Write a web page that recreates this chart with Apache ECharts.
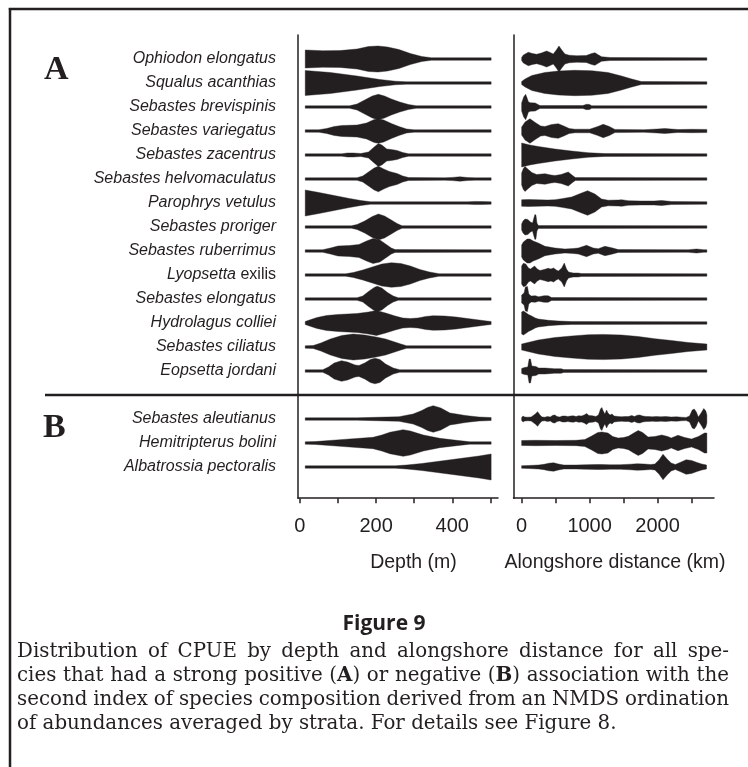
<!DOCTYPE html>
<html>
<head>
<meta charset="utf-8">
<script src="https://cdn.jsdelivr.net/npm/echarts@6/dist/echarts.min.js"></script>
<style>
  html, body { margin: 0; padding: 0; background: #fff; }
  #chart { width: 748px; height: 767px; }
</style>
</head>
<body>
<div id="chart"></div>
<script>
// ---- Species (rows) -------------------------------------------------------
const speciesA = [
  'Ophiodon elongatus', 'Squalus acanthias', 'Sebastes brevispinis',
  'Sebastes variegatus', 'Sebastes zacentrus', 'Sebastes helvomaculatus',
  'Parophrys vetulus', 'Sebastes proriger', 'Sebastes ruberrimus',
  'Lyopsetta exilis', 'Sebastes elongatus', 'Hydrolagus colliei',
  'Sebastes ciliatus', 'Eopsetta jordani'
];
const speciesB = ['Sebastes aleutianus', 'Hemitripterus bolini', 'Albatrossia pectoralis'];
const uprightWords = ['exilis'];
const groupLetters = ['A', 'B'];

// ---- Axis ticks -------------------------------------------------------------
const depthTicks = [0, 100, 200, 300, 400, 500];
const depthLabels = [0, 200, 400];
const distanceTicks = [0, 500, 1000, 1500, 2000, 2500];
const distanceLabels = [0, 1000, 2000];
const depthTitle = 'Depth (m)';
const distanceTitle = 'Alongshore distance (km)';

// ---- CPUE density profiles: [position, relative density] -----------------
// depth (m), one profile per species, group A then group B
const depthDensity = [
  [[14,9],[60,8.3],[105,8.4],[150,10],[180,12.5],[205,13],[230,12],[260,9.5],[290,5.5],[320,2.5],[345,1.3],[502,1.2]],
  [[14,12.5],[80,10.5],[150,7],[210,3.5],[250,1.8],[280,1.2],[502,1.2]],
  [[14,1.2],[130,1.2],[150,3],[170,7],[190,11],[206,12.7],[222,11],[240,8],[262,5],[285,2.5],[305,1.3],[502,1.2]],
  [[14,1.2],[50,1.3],[70,2.5],[90,4.5],[110,5.5],[150,6],[175,8],[195,11.5],[206,12.3],[220,11],[240,7.5],[260,4.5],[280,2],[300,1.2],[502,1.3]],
  [[14,1.2],[110,1.2],[125,2],[140,2],[160,1.5],[180,3],[195,8],[206,11.5],[215,10],[228,6],[240,5.5],[255,4.5],[270,2.5],[285,1.3],[502,1.2]],
  [[14,1.2],[150,1.3],[165,3],[180,7],[195,11],[206,12.8],[220,10],[235,7.5],[255,5.5],[270,3],[285,1.5],[380,1.2],[400,1.6],[420,2.2],[440,1.5],[460,1.2],[502,1.2]],
  [[14,13],[50,10.5],[90,7.5],[130,4.5],[160,2.5],[185,1.3],[440,1.2],[460,1.6],[480,1.4],[502,1.2]],
  [[14,1.2],[135,1.2],[150,2.5],[170,6],[190,10.5],[206,13],[222,11],[240,7],[255,3.5],[268,1.3],[502,1.2]],
  [[14,1.2],[60,1.3],[80,3],[100,5],[130,5.5],[155,6.5],[175,10],[192,12.5],[210,11],[225,7],[240,3],[250,1.4],[502,1.2]],
  [[14,1.2],[120,1.2],[140,2.5],[165,5],[190,8],[215,11],[240,12.3],[265,11.5],[290,9],[315,5.5],[340,3],[365,1.3],[502,1.2]],
  [[14,1.2],[150,1.3],[165,3],[180,7.5],[195,11.5],[203,12.8],[215,11],[230,6.5],[245,3],[258,1.3],[502,1.2]],
  [[14,1.5],[25,3],[45,5.5],[70,7.5],[100,8.5],[150,9.5],[180,11],[201,12.5],[225,10],[250,7],[270,5],[290,4.5],[310,5],[330,6.5],[350,7.3],[380,7],[410,6],[440,4.5],[470,3],[490,2],[502,1.5]],
  [[14,1.2],[35,1.5],[55,4],[80,8],[110,11.5],[140,13],[170,12],[200,10],[225,8],[245,5.5],[265,3],[280,1.3],[502,1.2]],
  [[14,1.2],[60,1.3],[75,4],[90,8],[109,10.3],[125,9],[145,6],[155,5.5],[170,8],[185,11.5],[197,12.8],[210,11.5],[225,7],[245,3],[262,1.3],[502,1.2]],
  [[14,1.2],[150,1.2],[200,1.7],[260,2.3],[297,5],[320,8.5],[335,11.5],[350,13.3],[370,11],[394,6],[411,5],[430,3.8],[446,3],[470,2],[502,1.5]],
  [[14,1.2],[40,1.4],[105,3.3],[192,5.7],[215,8],[236,10.7],[271,13.3],[290,12],[324,8],[367,4.7],[411,2.7],[446,1.2],[502,1.2]],
  [[14,1.2],[250,1.2],[280,2],[320,3.5],[360,5.5],[400,7.5],[440,9.5],[470,11],[502,13]]
];

// alongshore distance (km), same species order
const distanceDensity = [
  [[0,1.5],[25,4],[98,6.7],[160,5.5],[220,4.7],[290,6],[367,8],[420,6.5],[465,5],[510,9],[549,13],[590,9],[637,5],[700,3.8],[808,3.3],[950,3.5],[1030,5.5],[1078,6.3],[1120,4.5],[1176,2.3],[1300,1.5],[2725,1.2]],
  [[0,1.5],[50,4],[150,7.5],[340,10.5],[540,12],[780,12.7],[1030,12.3],[1270,10.5],[1470,7],[1620,4],[1760,1.5],[2725,1.2]],
  [[0,4],[30,10],[59,12.7],[80,9],[100,5],[130,4.3],[200,4],[240,2.5],[270,1.4],[500,1.4],[900,1.4],[955,2.7],[1000,2.5],[1030,1.3],[2725,1.2]],
  [[0,4],[50,9],[122,12.3],[200,8.5],[280,5],[343,4.5],[440,6.5],[539,7.3],[620,5],[700,2.5],[784,1.8],[1000,1.8],[1120,4.5],[1200,6.7],[1290,4.5],[1372,1.6],[1800,1.3],[2000,2],[2107,2.5],[2200,2],[2300,1.5],[2500,1.7],[2725,1.6]],
  [[0,12],[120,10],[245,8.5],[490,6],[735,4],[980,2.3],[1225,1.4],[2725,1.2]],
  [[0,6],[25,10.5],[49,12.5],[90,10],[150,6.5],[220,4.5],[343,5.3],[430,4],[490,3.5],[580,4.5],[686,7],[740,4],[790,1.4],[2725,1.2]],
  [[0,3.3],[100,3.5],[250,3.2],[380,3],[490,3.3],[588,4.3],[735,6],[882,10],[970,12.3],[1078,9],[1176,4],[1274,2.8],[1421,3],[1470,3.3],[1568,2.3],[1750,2],[1950,2],[2058,2.5],[2205,1.5],[2725,1.2]],
  [[0,3],[20,6],[50,8],[90,7.5],[130,5],[160,4],[180,9],[195,12.5],[210,12],[225,4],[245,1.4],[2725,1.2]],
  [[0,6],[25,9],[80,12],[122,12],[170,10],[245,8],[343,4.7],[490,3],[637,2],[760,2.5],[833,3],[955,5.7],[1053,3],[1127,2.3],[1225,4.7],[1323,3.3],[1421,1.4],[2450,1.3],[2573,2],[2680,1.3],[2725,1.2]],
  [[0,9],[25,11.7],[60,11],[100,7],[130,6],[190,9],[230,6],[270,4.5],[330,5.5],[390,6.7],[430,6],[470,7],[510,5],[540,4],[590,7],[627,12],[660,6],[690,3],[760,2],[830,2],[880,1.4],[2725,1.2]],
  [[0,4],[35,6],[55,12],[85,12.5],[105,5],[140,3],[200,3.3],[250,2.2],[330,3.3],[390,3.3],[440,1.5],[2725,1.2]],
  [[0,11],[25,12],[60,10.5],[100,8.5],[147,7],[200,5],[245,4],[392,2.7],[540,2],[735,1.4],[2725,1.2]],
  [[0,3],[245,7],[490,9.5],[735,11],[980,12.3],[1200,12.6],[1470,12],[1715,10.5],[1960,8.3],[2205,6.5],[2450,4.5],[2725,3]],
  [[0,2.5],[40,3.5],[90,4],[110,12],[130,12],[150,5],[210,4.5],[250,3],[340,3],[400,2.7],[480,2.3],[580,2.3],[620,1.4],[2725,1.2]],
  [[0,1.5],[20,3],[45,2],[90,1.8],[140,2],[200,5],[235,7.3],[270,4],[300,2],[340,1.8],[380,2.5],[420,2],[460,3.8],[490,4],[520,2.5],[560,2],[600,3],[640,3],[680,2.5],[720,3],[760,3.2],[800,2.5],[840,3.3],[880,3],[920,4],[955,5.5],[990,3.5],[1040,3.3],[1090,2.5],[1130,4],[1160,10],[1180,11.5],[1200,8],[1225,5],[1250,9],[1270,6],[1300,4],[1330,5],[1360,3],[1420,2.5],[1470,2.3],[1520,2.5],[1570,2.5],[1620,3.5],[1660,2.5],[1700,3.8],[1740,4],[1780,3],[1830,2.5],[1870,2.5],[1920,2.2],[1980,2.5],[2050,2.2],[2120,2.5],[2200,2],[2280,2.2],[2350,1.8],[2420,1.6],[2470,3],[2510,9],[2540,10],[2570,7],[2600,2],[2640,6],[2680,10.5],[2710,8],[2725,4]],
  [[0,2.5],[200,2.7],[500,2.5],[800,2.7],[930,3.5],[1030,7],[1120,10.5],[1180,11],[1270,10],[1340,6.5],[1420,5],[1500,5.5],[1570,6.7],[1650,10],[1715,12.5],[1780,10.5],[1860,6],[1960,6.5],[2060,8],[2150,6.5],[2200,5],[2300,7.7],[2400,5.5],[2500,4],[2600,6.5],[2690,10],[2725,10]],
  [[0,1.3],[100,1.5],[250,2],[330,2.7],[400,3.8],[470,4.2],[540,3],[620,2],[800,2],[950,2.3],[1100,2.5],[1180,2.5],[1300,2.2],[1450,2.3],[1600,2.8],[1700,3.3],[1800,3],[1900,2.5],[1960,3],[2020,7],[2080,12.8],[2140,8],[2200,4],[2260,2.5],[2330,4.5],[2420,7.3],[2500,6.5],[2580,4.5],[2650,3],[2720,2]]
];

// ---- Caption ---------------------------------------------------------------
const figureTitle = 'Figure 9';
const captionLines = [
  'Distribution of CPUE by depth and alongshore distance for all spe-',
  'cies that had a strong positive (**A**) or negative (**B**) association with the',
  'second index of species composition derived from an NMDS ordination',
  'of abundances averaged by strata. For details see Figure 8.'
];

// ---- Styling ---------------------------------------------------------------
const INK = '#231f20';
const SANS = '"Liberation Sans", Arial, sans-serif';
const SERIF = '"DejaVu Serif", serif';
const WIDTH_SCALE = 1 / 24;   // density unit -> row units
const GROUP_B_OFFSET = 15;    // first row index of group B

const allNames = speciesA.concat(speciesB);
const allRows = allNames.map((_, i) => i < speciesA.length ? i : GROUP_B_OFFSET + i - speciesA.length);

function speciesLabel(value) {
  const i = allRows.indexOf(Math.round(value));
  if (i < 0) return '';
  return allNames[i].split(' ').map((w, k, arr) => {
    const sty = uprightWords.indexOf(w) >= 0 ? 'n' : 'i';
    return '{' + sty + '|' + w + (k < arr.length - 1 ? ' ' : '') + '}';
  }).join('');
}

function violin(profiles) {
  return function (params, api) {
    const row = api.value(0);
    const prof = profiles[api.value(1)];
    const upper = prof.map(p => api.coord([p[0], row - p[1] * WIDTH_SCALE]));
    const lower = prof.slice().reverse().map(p => api.coord([p[0], row + p[1] * WIDTH_SCALE]));
    return {
      type: 'polygon',
      shape: { points: upper.concat(lower) },
      style: { fill: INK, stroke: INK, lineWidth: 0.4 }
    };
  };
}

const rowData = allRows.map((r, i) => [r, i]);
const axisLine = { show: true, onZero: false, lineStyle: { color: INK, width: 1.5 } };
const tickLabelStyle = { fontSize: 20, fontFamily: SANS, color: INK, margin: 18, formatter: v => String(v) };
const rowAxis = { type: 'value', inverse: true, min: -1, max: 18.3,
  axisLine: axisLine, axisTick: { show: false }, splitLine: { show: false } };

const chart = echarts.init(document.getElementById('chart'), null, { renderer: 'canvas' });

chart.setOption({
  animation: false,
  backgroundColor: '#fff',
  grid: [
    { left: 298, top: 35, width: 200, height: 463.2 },
    { left: 513.5, top: 35, width: 200.5, height: 463.2 }
  ],
  xAxis: [
    { gridIndex: 0, type: 'value', min: -5, max: 520, axisLine: axisLine, splitLine: { show: false },
      axisTick: { show: true, customValues: depthTicks, length: 5, lineStyle: { color: INK, width: 1.5 } },
      axisLabel: Object.assign({ customValues: depthLabels }, tickLabelStyle) },
    { gridIndex: 1, type: 'value', min: -120, max: 2830, axisLine: axisLine, splitLine: { show: false },
      axisTick: { show: true, customValues: distanceTicks, length: 5, lineStyle: { color: INK, width: 1.5 } },
      axisLabel: Object.assign({ customValues: distanceLabels }, tickLabelStyle) }
  ],
  yAxis: [
    Object.assign({ gridIndex: 0, axisLabel: {
      customValues: allRows, formatter: speciesLabel, margin: 22, align: 'right',
      rich: {
        i: { fontStyle: 'italic', fontFamily: SANS, fontSize: 16, color: INK },
        n: { fontStyle: 'normal', fontFamily: SANS, fontSize: 16, color: INK }
      }
    } }, rowAxis),
    Object.assign({ gridIndex: 1, axisLabel: { show: false } }, rowAxis)
  ],
  series: [
    { type: 'custom', xAxisIndex: 0, yAxisIndex: 0, data: rowData, renderItem: violin(depthDensity), silent: true },
    { type: 'custom', xAxisIndex: 1, yAxisIndex: 1, data: rowData, renderItem: violin(distanceDensity), silent: true }
  ]
});

// ---- Frame, group divider, letters, axis titles, caption -------------------
const measure = document.createElement('canvas').getContext('2d');
function widthOf(str, size, weight) {
  measure.font = (weight || 'normal') + ' ' + size + 'px ' + SERIF;
  return measure.measureText(str).width;
}
function segmentsOf(word) {
  return word.split(/(\*\*[^*]+\*\*)/).filter(s => s).map(s =>
    s.startsWith('**') ? { t: s.slice(2, -2), b: true } : { t: s, b: false });
}

const divider = chart.convertToPixel({ gridIndex: 0 }, [0, 14]);
const rowA = chart.convertToPixel({ gridIndex: 0 }, [0, 0]);
const rowB = chart.convertToPixel({ gridIndex: 0 }, [0, GROUP_B_OFFSET + 0.4]);

const graphics = [
  { type: 'line', shape: { x1: 8.8, y1: 9, x2: 748, y2: 9 }, style: { stroke: INK, lineWidth: 2.5 } },
  { type: 'line', shape: { x1: 10, y1: 8, x2: 10, y2: 767 }, style: { stroke: INK, lineWidth: 2.5 } },
  { type: 'line', shape: { x1: 45, y1: divider[1], x2: 748, y2: divider[1] }, style: { stroke: INK, lineWidth: 2.5 } },
  { type: 'text', x: 44, y: rowA[1] + 11, style: { text: groupLetters[0], fill: INK, fontSize: 34, fontWeight: 'bold',
      fontFamily: '"Liberation Serif", serif', textAlign: 'left', align: 'left', textVerticalAlign: 'middle', verticalAlign: 'middle' } },
  { type: 'text', x: 43, y: rowB[1], style: { text: groupLetters[1], fill: INK, fontSize: 34, fontWeight: 'bold',
      fontFamily: '"Liberation Serif", serif', textAlign: 'left', align: 'left', textVerticalAlign: 'middle', verticalAlign: 'middle' } },
  { type: 'text', x: 413.5, y: 563, style: { text: depthTitle, fill: INK, fontSize: 19.5, fontFamily: SANS,
      textAlign: 'center', align: 'center', textVerticalAlign: 'middle', verticalAlign: 'middle' } },
  { type: 'text', x: 615, y: 563, style: { text: distanceTitle, fill: INK, fontSize: 19.5, fontFamily: SANS,
      textAlign: 'center', align: 'center', textVerticalAlign: 'middle', verticalAlign: 'middle' } },
  { type: 'text', x: 384, y: 624, style: { text: figureTitle, fill: INK, fontSize: 21, fontWeight: 'bold',
      fontFamily: '"Open Sans", sans-serif', textAlign: 'center', align: 'center', textVerticalAlign: 'middle', verticalAlign: 'middle' } }
];

// caption: justified block, last line ragged
const capLeft = 17, capRight = 729, capTop = 652, capLead = 24;
const capSize = 20 * 600 / widthOf(captionLines[captionLines.length - 1].replace(/\*\*/g, ''), 20);
captionLines.forEach((line, li) => {
  const words = line.split(' ').map(w => {
    const segs = segmentsOf(w).map(s => Object.assign(s, { w: widthOf(s.t, capSize, s.b ? 'bold' : 'normal') }));
    return { segs, w: segs.reduce((a, s) => a + s.w, 0) };
  });
  const total = words.reduce((a, w) => a + w.w, 0);
  const last = li === captionLines.length - 1;
  const gap = last ? widthOf(' ', capSize) : (capRight - capLeft - total) / (words.length - 1);
  let x = capLeft;
  const y = capTop + li * capLead;
  words.forEach(w => {
    let sx = x;
    w.segs.forEach(s => {
      graphics.push({ type: 'text', x: sx, y: y, style: { text: s.t, fill: INK, fontSize: capSize,
        fontWeight: s.b ? 'bold' : 'normal', fontFamily: SERIF, textAlign: 'left', align: 'left',
        textVerticalAlign: 'middle', verticalAlign: 'middle' } });
      sx += s.w;
    });
    x += w.w + gap;
  });
});

chart.setOption({ graphic: graphics });
</script>
</body>
</html>
